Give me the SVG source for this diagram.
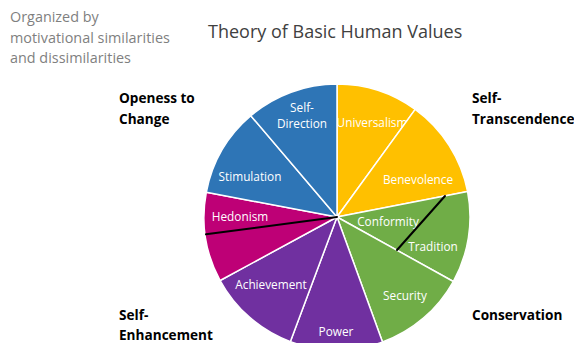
<svg xmlns="http://www.w3.org/2000/svg" width="574" height="343" viewBox="0 0 574 343">
<style>
.w{stroke:#fff;stroke-width:1.5;stroke-linejoin:round}
.lbl{font-family:"Open Sans","Liberation Sans",sans-serif;font-size:11.8px;fill:#fff;text-anchor:middle}
.grp{font-family:"Open Sans","Liberation Sans",sans-serif;font-size:13.6px;font-weight:bold;fill:#000}
.note{font-family:"Open Sans","Liberation Sans",sans-serif;font-size:14.4px;fill:#7f7f7f}
.title{font-family:"Open Sans","Liberation Sans",sans-serif;font-size:18px;fill:#404040}
.blue{fill:#2e75b6}.yel{fill:#ffc000}.grn{fill:#70ad47}.pur{fill:#7030a0}.mag{fill:#be0076}
</style>
<rect width="574" height="343" fill="#fff"/>
<g id="caption">
<text class="note" x="10" y="22">Organized by</text>
<text class="note" x="10" y="42.5">motivational similarities</text>
<text class="note" x="10" y="63">and dissimilarities</text>
</g>
<text id="title" class="title" x="208" y="38">Theory of Basic Human Values</text>
<g id="universalism">
<path class="w yel" d="M337,217 L337,84 A133,133 0 0 1 415.2,109.4 Z"/>
<text class="lbl" x="372" y="127">Universalism</text>
</g>
<g id="benevolence">
<path class="w yel" d="M337,217 L415.2,109.4 A133,133 0 0 1 467.6,191.6 Z"/>
<text class="lbl" x="418" y="184">Benevolence</text>
</g>
<g id="conformity-tradition">
<path class="w grn" d="M337,217 L467.6,191.6 A133,133 0 0 1 453.3,281.5 Z"/>
<text class="lbl" x="388" y="226">Conformity</text>
<text class="lbl" x="433" y="251">Tradition</text>
</g>
<g id="security">
<path class="w grn" d="M337,217 L453.3,281.5 A133,133 0 0 1 382.5,342 Z"/>
<text class="lbl" x="405" y="300">Security</text>
</g>
<g id="power">
<path class="w pur" d="M337,217 L382.5,342 A133,133 0 0 1 290.4,341.6 Z"/>
<text class="lbl" x="336" y="336">Power</text>
</g>
<g id="achievement">
<path class="w pur" d="M337,217 L290.4,341.6 A133,133 0 0 1 220.1,280.5 Z"/>
<text class="lbl" x="271" y="289">Achievement</text>
</g>
<g id="hedonism">
<path class="w mag" d="M337,217 L220.1,280.5 A133,133 0 0 1 206.3,192.3 Z"/>
<text class="lbl" x="240" y="221">Hedonism</text>
</g>
<g id="stimulation">
<path class="w blue" d="M337,217 L206.3,192.3 A133,133 0 0 1 250.8,115.7 Z"/>
<text class="lbl" x="250" y="181">Stimulation</text>
</g>
<g id="self-direction">
<path class="w blue" d="M337,217 L250.8,115.7 A133,133 0 0 1 337,84 Z"/>
<text class="lbl" x="302" y="112">Self-</text>
<text class="lbl" x="302" y="128">Direction</text>
</g>
<g id="connectors" stroke="#000" stroke-width="2" stroke-linecap="round">
<line x1="337" y1="217" x2="206" y2="234.3"/>
<line x1="445" y1="196" x2="397" y2="250"/>
</g>
<g id="openness">
<text class="grp" x="119" y="103">Openess to</text>
<text class="grp" x="119" y="123.5">Change</text>
</g>
<g id="self-transcendence">
<text class="grp" x="472" y="103">Self-</text>
<text class="grp" x="472" y="124">Transcendence</text>
</g>
<g id="self-enhancement">
<text class="grp" x="119" y="320">Self-</text>
<text class="grp" x="119" y="340">Enhancement</text>
</g>
<g id="conservation">
<text class="grp" x="472" y="320">Conservation</text>
</g>
</svg>
